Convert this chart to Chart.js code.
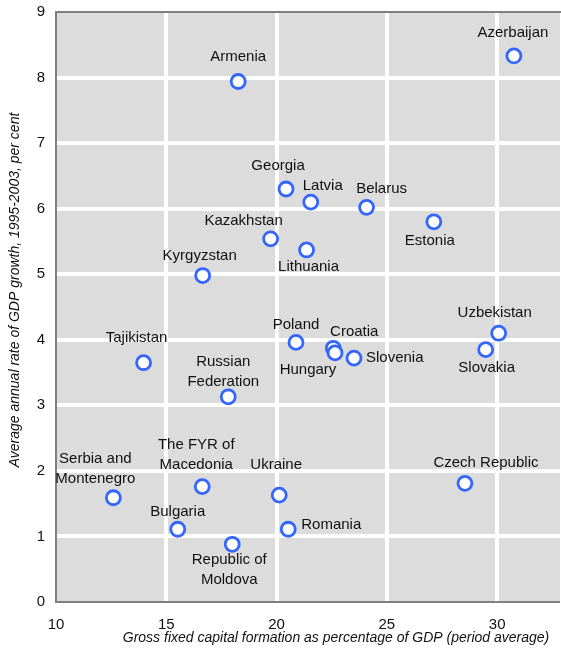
<!DOCTYPE html>
<html>
<head>
<meta charset="utf-8">
<script src="https://cdn.jsdelivr.net/npm/chart.js@4"></script>
<style>
  html, body { margin: 0; padding: 0; background: #ffffff; }
  #wrap { width: 561px; height: 648px; position: relative; }
</style>
</head>
<body>
<div id="wrap"><canvas id="c" width="561" height="648"></canvas></div>
<script>
// ---- data ----
const countries = ["Azerbaijan", "Armenia", "Georgia", "Latvia", "Belarus", "Estonia",
  "Kazakhstan", "Lithuania", "Kyrgyzstan", "Tajikistan", "Russian Federation", "Poland",
  "Croatia", "Hungary", "Slovenia", "Uzbekistan", "Slovakia", "Czech Republic",
  "Serbia and Montenegro", "The FYR of Macedonia", "Ukraine", "Bulgaria",
  "Republic of Moldova", "Romania"];
const gfcfShare = [30.76, 18.26, 20.43, 21.55, 24.08, 27.13,
  19.73, 21.36, 16.65, 13.97, 17.81, 20.88,
  22.57, 22.65, 23.51, 30.07, 29.48, 28.54,
  12.60, 16.63, 20.12, 15.52,
  17.99, 20.53];
const gdpGrowth = [8.33, 7.94, 6.30, 6.10, 6.02, 5.80,
  5.54, 5.37, 4.98, 3.65, 3.13, 3.96,
  3.87, 3.80, 3.72, 4.10, 3.85, 1.81,
  1.59, 1.76, 1.63, 1.11,
  0.88, 1.11];
const xTickValues = [10, 15, 20, 25, 30];
const yTickValues = [0, 1, 2, 3, 4, 5, 6, 7, 8, 9];
const xTitle = "Gross fixed capital formation as percentage of GDP (period average)";
const yTitle = "Average annual rate of GDP growth, 1995-2003, per cent";

// ---- label placement (layout only, separate from data) ----
const labelLines = {
  "Russian Federation": ["Russian", "Federation"],
  "Serbia and Montenegro": ["Serbia and", "Montenegro"],
  "The FYR of Macedonia": ["The FYR of", "Macedonia"],
  "Republic of Moldova": ["Republic of", "Moldova"]
};
const labelPlace = {
  "Azerbaijan": [-1, -23, "center"],
  "Armenia": [0, -25, "center"],
  "Georgia": [-8, -23, "center"],
  "Latvia": [12, -16, "center"],
  "Belarus": [15, -18, "center"],
  "Estonia": [-4, 19, "center"],
  "Kazakhstan": [-27, -18, "center"],
  "Lithuania": [2, 17, "center"],
  "Kyrgyzstan": [-3, -20, "center"],
  "Tajikistan": [-7, -25, "center"],
  "Russian Federation": [-5, -35, "center"],
  "Poland": [0, -18, "center"],
  "Croatia": [21, -16, "center"],
  "Hungary": [-27, 17, "center"],
  "Slovenia": [12, 0, "left"],
  "Uzbekistan": [-4, -20, "center"],
  "Slovakia": [1, 18, "center"],
  "Czech Republic": [21, -20, "center"],
  "Serbia and Montenegro": [-18, -39, "center"],
  "The FYR of Macedonia": [-6, -42, "center"],
  "Ukraine": [-3, -30, "center"],
  "Bulgaria": [0, -17, "center"],
  "Republic of Moldova": [-3, 16, "center"],
  "Romania": [13, -4, "left"]
};

const FONT = "'Liberation Sans', Arial, Helvetica, sans-serif";
const points = countries.map((c, i) => ({ x: gfcfShare[i], y: gdpGrowth[i], name: c }));

const plotBackground = {
  id: 'plotBackground',
  beforeDraw(chart) {
    const { ctx, chartArea: a } = chart;
    ctx.save();
    ctx.fillStyle = '#dcdcdc';
    ctx.fillRect(a.left, a.top, a.right - a.left, a.bottom - a.top);
    ctx.restore();
  }
};

const pointLabels = {
  id: 'pointLabels',
  afterDatasetsDraw(chart) {
    const { ctx } = chart;
    const meta = chart.getDatasetMeta(0);
    ctx.save();
    ctx.font = '15px ' + FONT;
    ctx.fillStyle = '#111111';
    ctx.textBaseline = 'middle';
    meta.data.forEach((el, i) => {
      const name = countries[i];
      const p = labelPlace[name] || [0, -20, 'center'];
      const lines = labelLines[name] || [name];
      ctx.textAlign = p[2];
      lines.forEach((ln, k) => {
        ctx.fillText(ln, el.x + p[0], el.y + p[1] + k * 20);
      });
    });
    ctx.restore();
  }
};

const axisTitles = {
  id: 'axisTitles',
  afterDraw(chart) {
    const { ctx } = chart;
    ctx.save();
    ctx.font = 'italic 14px ' + FONT;
    ctx.fillStyle = '#111111';
    ctx.textAlign = 'center';
    ctx.textBaseline = 'middle';
    ctx.fillText(xTitle, 336, 638);
    ctx.translate(15, 290);
    ctx.rotate(-Math.PI / 2);
    ctx.fillText(yTitle, 0, 0);
    ctx.restore();
  }
};

new Chart(document.getElementById('c'), {
  type: 'scatter',
  data: {
    datasets: [{
      data: points,
      pointRadius: 7,
      pointHoverRadius: 7,
      pointBorderWidth: 2.8,
      pointBorderColor: '#3366ff',
      pointBackgroundColor: '#ffffff',
      showLine: false,
      clip: false
    }]
  },
  options: {
    responsive: false,
    animation: false,
    devicePixelRatio: 1,
    layout: { autoPadding: false, padding: { left: 37, right: 1, top: 12, bottom: 14 } },
    plugins: { legend: { display: false }, tooltip: { enabled: false } },
    scales: {
      x: {
        type: 'linear',
        position: 'bottom',
        min: 10,
        max: 32.85,
        afterBuildTicks: (s) => { s.ticks = xTickValues.map(v => ({ value: v })); },
        afterFit: (s) => { s.height = 32; s.paddingLeft = 0; s.paddingRight = 0; },
        ticks: { font: { size: 15, family: FONT }, color: '#111111', padding: 14 },
        grid: {
          color: '#ffffff',
          lineWidth: (c) => (c.tick && c.tick.value === 10) ? 0 : 4,
          drawTicks: false
        },
        border: { display: true, color: '#808080', width: 2 }
      },
      xTop: {
        type: 'linear',
        position: 'top',
        min: 10,
        max: 32.85,
        afterFit: (s) => { s.height = 0; s.paddingLeft = 0; s.paddingRight = 0; },
        ticks: { display: false },
        grid: { display: false, drawTicks: false },
        border: { display: true, color: '#808080', width: 2 }
      },
      y: {
        type: 'linear',
        min: 0,
        max: 9,
        afterBuildTicks: (s) => { s.ticks = yTickValues.map(v => ({ value: v })); },
        afterFit: (s) => { s.width = 19; s.paddingTop = 0; s.paddingBottom = 0; },
        ticks: { font: { size: 15, family: FONT }, color: '#111111', padding: 11 },
        grid: {
          color: '#ffffff',
          lineWidth: (c) => (c.tick && (c.tick.value === 0 || c.tick.value === 9)) ? 0 : 4,
          drawTicks: false
        },
        border: { display: true, color: '#808080', width: 2 }
      }
    }
  },
  plugins: [plotBackground, pointLabels, axisTitles]
});
</script>
</body>
</html>
